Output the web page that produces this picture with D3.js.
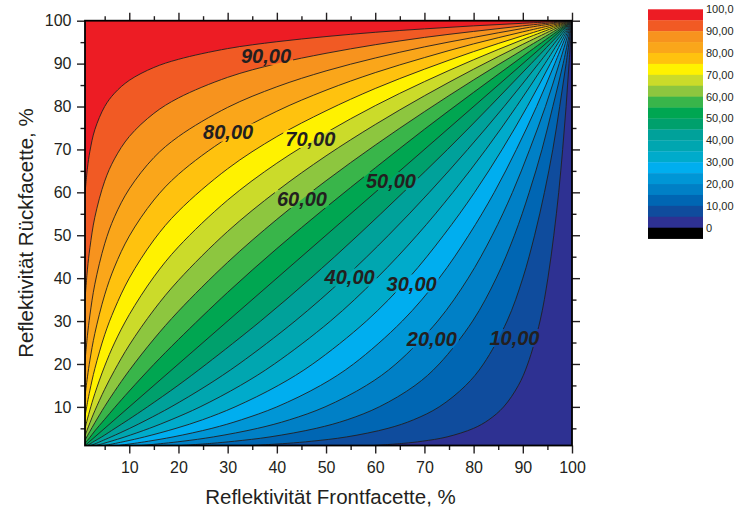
<!DOCTYPE html>
<html>
<head>
<meta charset="utf-8">
<script src="https://cdn.jsdelivr.net/npm/d3@7"></script>
<style>
  body { margin: 0; background: #fff; }
  svg { display: block; font-family: Arial, "Liberation Sans", sans-serif; }
</style>
</head>
<body>
<svg id="chart"></svg>
<script>
var width = 734,
  height = 514;

// lower bound of every colour band (band = level .. level + 5)
var levels = [0, 5, 10, 15, 20, 25, 30, 35, 40, 45, 50, 55, 60, 65, 70, 75, 80, 85, 90, 95];
var bandColors = ['#2e3192', '#0f4c9d', '#0066b3', '#0080c6', '#0096d6', '#00aeef', '#00abcb',
  '#00a6b0', '#00a19a', '#00a06c', '#00a651', '#39b54a', '#8dc63f', '#cbdb2a', '#fff200',
  '#ffc20e', '#faa61a', '#f7931e', '#f15a24', '#ed1c24'];

// contour lines above the diagonal, [Frontfacette %, Rückfacette %]
var c95 = [[1, 59.7], [1.5, 65.7], [2, 69.6], [3, 74.6], [5, 80.0], [7, 83.1], [10, 86.1], [15, 89.1], [20, 91.0], [30, 93.5], [40, 95.1], [50, 96.3], [60, 97.3], [70, 98.1], [80, 98.8], [90, 99.4], [100, 100]];
var c90 = [[1, 35.0], [1.5, 42.1], [2, 47.1], [3, 54.2], [5, 62.6], [7, 67.8], [10, 73.0], [15, 78.4], [20, 82.0], [30, 86.8], [40, 90.0], [50, 92.4], [60, 94.4], [70, 96.1], [80, 97.5], [90, 98.8], [100, 100]];
var c85 = [[1, 20.6], [1.5, 26.7], [2, 31.4], [3, 38.6], [5, 48.0], [7, 54.3], [10, 60.8], [15, 68.1], [20, 73.0], [30, 79.8], [40, 84.6], [50, 88.3], [60, 91.3], [70, 93.9], [80, 96.1], [90, 98.2], [100, 100]];
var c80 = [[1, 12.5], [1.5, 17.0], [2, 20.9], [3, 27.1], [5, 36.1], [7, 42.6], [10, 49.8], [15, 58.2], [20, 64.2], [30, 72.7], [40, 78.9], [50, 83.8], [60, 87.9], [70, 91.4], [80, 94.6], [90, 97.4], [100, 100]];
var c75 = [[1, 7.8], [1.5, 11.0], [2, 13.9], [3, 18.9], [5, 26.8], [7, 32.8], [10, 40.0], [15, 48.9], [20, 55.6], [30, 65.5], [40, 73.0], [50, 79.0], [60, 84.2], [70, 88.7], [80, 92.8], [90, 96.5], [100, 100]];
var c70 = [[1, 5.0], [1.5, 7.2], [2, 9.3], [3, 13.1], [5, 19.5], [7, 24.9], [10, 31.5], [15, 40.3], [20, 47.3], [30, 58.2], [40, 66.8], [50, 73.9], [60, 80.2], [70, 85.8], [80, 90.9], [90, 95.6], [100, 100]];
var c65 = [[1, 3.3], [1.5, 4.8], [2, 6.3], [3, 9.1], [5, 14.1], [7, 18.5], [10, 24.4], [15, 32.6], [20, 39.5], [30, 50.9], [40, 60.3], [50, 68.5], [60, 75.8], [70, 82.5], [80, 88.7], [90, 94.5], [100, 100]];
var c60 = [[1, 2.2], [1.5, 3.3], [2, 4.3], [3, 6.3], [5, 10.1], [7, 13.6], [10, 18.5], [15, 25.8], [20, 32.3], [30, 43.7], [40, 53.7], [50, 62.7], [60, 71.0], [70, 78.8], [80, 86.2], [90, 93.2], [100, 100]];
var c55 = [[1, 1.5], [1.5, 2.2], [2, 2.9], [3, 4.4], [5, 7.1], [7, 9.8], [10, 13.7], [15, 19.9], [20, 25.7], [30, 36.7], [40, 46.9], [50, 56.5], [60, 65.7], [70, 74.7], [80, 83.3], [90, 91.7], [100, 100]];
var c50 = [[1, 1], [100, 100]];

// the plot is symmetric: level 100 - v is level v with the axes swapped
function swap(pts) { return pts.map(function(d) { return [d[1], d[0]]; }); }

var contours = [
  [5, swap(c95)], [10, swap(c90)], [15, swap(c85)], [20, swap(c80)], [25, swap(c75)],
  [30, swap(c70)], [35, swap(c65)], [40, swap(c60)], [45, swap(c55)], [50, c50],
  [55, c55], [60, c60], [65, c65], [70, c70], [75, c75], [80, c80], [85, c85], [90, c90], [95, c95]
];

var contourLabels = [
  { text: '90,00', x: 37.8, y: 91.8 },
  { text: '80,00', x: 30.1, y: 74.0 },
  { text: '70,00', x: 46.8, y: 72.5 },
  { text: '60,00', x: 45.1, y: 58.5 },
  { text: '50,00', x: 63.2, y: 62.7 },
  { text: '40,00', x: 54.8, y: 40.2 },
  { text: '30,00', x: 67.4, y: 38.8 },
  { text: '20,00', x: 71.5, y: 25.8 },
  { text: '10,00', x: 88.3, y: 26.1 }
];

var majorTicks = [10, 20, 30, 40, 50, 60, 70, 80, 90, 100];
var minorTicks = [5, 15, 25, 35, 45, 55, 65, 75, 85, 95];

var legendLabels = ['100,0', '90,00', '80,00', '70,00', '60,00', '50,00', '40,00', '30,00', '20,00', '10,00', '0'];

var ink = '#231f20';

var svg = d3.select('#chart')
  .attr('width', width)
  .attr('height', height);

var x = d3.scaleLinear()
  .domain([1, 100])
  .range([85, 572]);

var y = d3.scaleLinear()
  .domain([1, 100])
  .range([445.5, 20.7]);

var line = d3.line()
  .x(function(d) { return x(d[0]); })
  .y(function(d) { return y(d[1]); })
  .curve(d3.curveCatmullRom.alpha(0.5));

var defs = svg.append('defs');

defs.append('clipPath')
  .attr('id', 'plot-clip')
  .append('rect')
  .attr('x', x(1))
  .attr('y', y(100))
  .attr('width', x(100) - x(1))
  .attr('height', y(1) - y(100));

var plot = svg.append('g')
  .attr('clip-path', 'url(#plot-clip)');

// lowest band fills the whole area, every higher band is painted over it
plot.append('rect')
  .attr('x', x(1))
  .attr('y', y(100))
  .attr('width', x(100) - x(1))
  .attr('height', y(1) - y(100))
  .attr('fill', bandColors[0]);

plot.selectAll('path.band')
  .data(contours)
  .enter().append('path')
  .attr('class', 'band')
  .attr('fill', function(d) { return bandColors[levels.indexOf(d[0])]; })
  .attr('d', function(d) {
    return line(d[1]) + 'L' + x(1) + ',' + y(100) + 'L' + x(1) + ',' + y(1) + 'Z';
  });

// labels first, so the lines can leave a gap around them
var labelG = svg.append('g');

labelG.selectAll('text')
  .data(contourLabels)
  .enter().append('text')
  .attr('x', function(d) { return x(d.x); })
  .attr('y', function(d) { return y(d.y); })
  .attr('dy', '0.36em')
  .attr('text-anchor', 'middle')
  .attr('font-size', '20px')
  .attr('font-weight', 'bold')
  .attr('font-style', 'italic')
  .attr('fill', ink)
  .text(function(d) { return d.text; });

var mask = defs.append('mask')
  .attr('id', 'label-gap')
  .attr('maskUnits', 'userSpaceOnUse')
  .attr('x', 0).attr('y', 0).attr('width', width).attr('height', height);

mask.append('rect')
  .attr('width', width)
  .attr('height', height)
  .attr('fill', '#fff');

labelG.selectAll('text').each(function() {
  var b = this.getBBox();
  mask.append('rect')
    .attr('x', b.x - 2)
    .attr('y', b.y + 2)
    .attr('width', b.width + 4)
    .attr('height', b.height - 4)
    .attr('fill', '#000');
});

plot.append('g')
  .attr('mask', 'url(#label-gap)')
  .selectAll('path')
  .data(contours)
  .enter().append('path')
  .attr('fill', 'none')
  .attr('stroke', ink)
  .attr('stroke-width', 0.9)
  .attr('d', function(d) { return line(d[1]); });

labelG.raise();

// axes, ticks on all four sides
var none = function() { return ''; };

var axes = [
  { g: 'translate(0,' + y(1) + ')', ax: d3.axisBottom(x), labels: true, pad: 8.5 },
  { g: 'translate(' + x(1) + ',0)', ax: d3.axisLeft(y), labels: true, pad: 5.5 },
  { g: 'translate(0,' + y(100) + ')', ax: d3.axisTop(x), labels: false, pad: 3 },
  { g: 'translate(' + x(100) + ',0)', ax: d3.axisRight(y), labels: false, pad: 3 }
];

axes.forEach(function(a) {
  var major = svg.append('g')
    .attr('transform', a.g)
    .call(a.ax.tickValues(majorTicks).tickSize(8).tickSizeOuter(0)
      .tickPadding(a.pad)
      .tickFormat(a.labels ? d3.format('d') : none));
  major.select('.domain').remove();
  major.selectAll('line').attr('stroke', ink).attr('stroke-width', 1.4);
  major.selectAll('text')
    .attr('font-size', '16px')
    .attr('font-family', 'Arial, "Liberation Sans", sans-serif')
    .attr('fill', ink);

  var minor = svg.append('g')
    .attr('transform', a.g)
    .call(a.ax.tickValues(minorTicks).tickSize(4.5).tickFormat(none));
  minor.select('.domain').remove();
  minor.selectAll('line').attr('stroke', ink).attr('stroke-width', 1.4);
});

svg.append('rect')
  .attr('x', x(1))
  .attr('y', y(100))
  .attr('width', x(100) - x(1))
  .attr('height', y(1) - y(100))
  .attr('fill', 'none')
  .attr('stroke', '#000')
  .attr('stroke-width', 1.8);

svg.append('text')
  .attr('x', (x(1) + x(100)) / 2 + 2)
  .attr('y', 504)
  .attr('text-anchor', 'middle')
  .attr('font-size', '20.5px')
  .attr('fill', ink)
  .text('Reflektivität Frontfacette, %');

svg.append('text')
  .attr('transform', 'translate(33,' + (y(1) + y(100)) / 2 + ')rotate(-90)')
  .attr('text-anchor', 'middle')
  .attr('font-size', '20.5px')
  .attr('fill', ink)
  .text('Reflektivität Rückfacette, %');

// colour legend: 20 bands plus the black box below 0
var legendTop = 9.3,
  boxH = 10.92;

var legendColors = bandColors.slice().reverse().concat(['#000']);

var legend = svg.append('g');

legend.selectAll('rect')
  .data(legendColors)
  .enter().append('rect')
  .attr('x', 648)
  .attr('y', function(d, i) { return legendTop + i * boxH; })
  .attr('width', 55)
  .attr('height', boxH + 0.3)
  .attr('fill', function(d) { return d; });

legend.selectAll('text')
  .data(legendLabels)
  .enter().append('text')
  .attr('x', 706)
  .attr('y', function(d, i) { return legendTop + i * 2 * boxH; })
  .attr('dy', '0.35em')
  .attr('font-size', '11px')
  .attr('fill', ink)
  .text(function(d) { return d; });
</script>
</body>
</html>
